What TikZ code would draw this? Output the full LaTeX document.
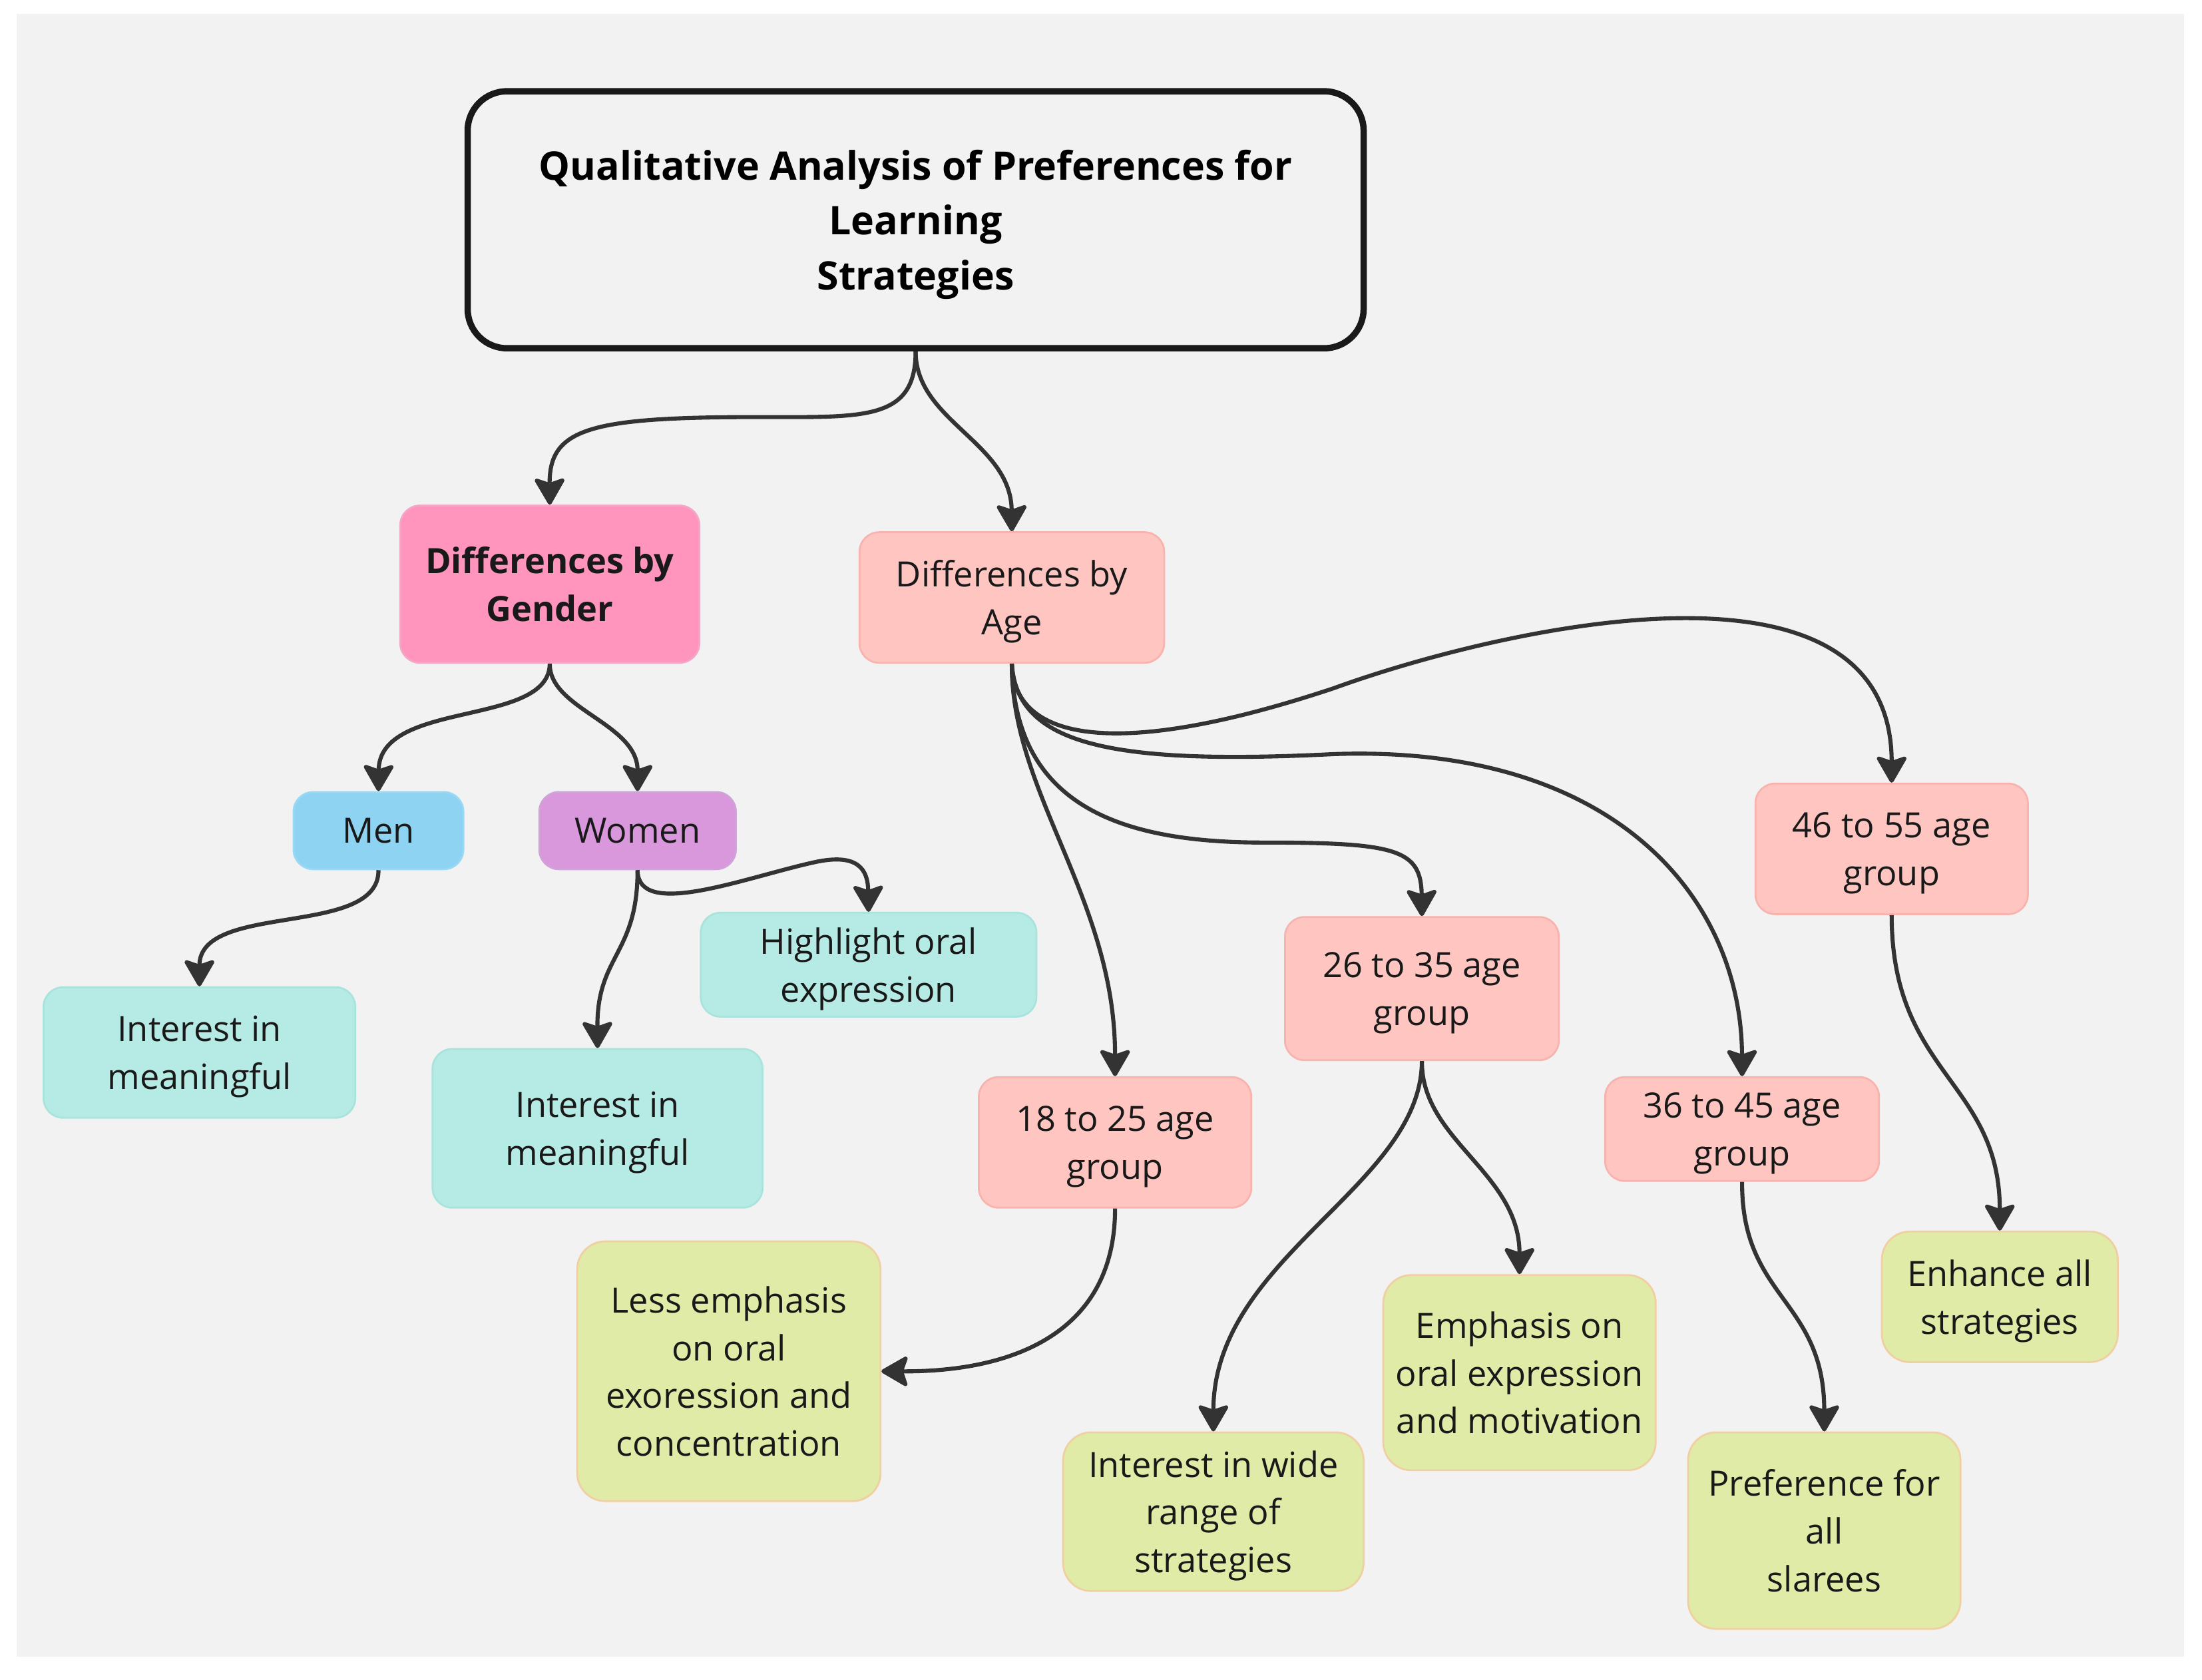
\documentclass[tikz,border=0pt]{standalone}
\usepackage{fontspec}
\setmainfont{Open Sans}
\usetikzlibrary{arrows.meta}
\definecolor{bg}{HTML}{F2F2F2}
\definecolor{pinkF}{HTML}{FF94BC}\definecolor{pinkD}{HTML}{F5A6C6}
\definecolor{salF}{HTML}{FFC6C1}\definecolor{salD}{HTML}{F8B3AE}
\definecolor{blueF}{HTML}{8FD3F3}\definecolor{blueD}{HTML}{9AD9F3}
\definecolor{purF}{HTML}{DA98DC}\definecolor{purD}{HTML}{CFA2D8}
\definecolor{tealF}{HTML}{B6EAE4}\definecolor{tealD}{HTML}{A8E4DC}
\definecolor{ylwF}{HTML}{DFEBA6}\definecolor{ylwD}{HTML}{F0D0A2}
\definecolor{arr}{HTML}{333333}
\begin{document}
\begin{tikzpicture}[x=1pt,y=-1pt,
  box/.style={rounded corners=14pt, line width=1.3pt, inner sep=0pt, align=center,
    text depth=0pt, font=\fontsize{24.8}{34}\selectfont, text=black!90},
  pinkbox/.style={box, fill=pinkF, draw=pinkD, font=\fontsize{24.8}{34}\selectfont\bfseries},
  salbox/.style={box, fill=salF, draw=salD},
  bluebox/.style={box, fill=blueF, draw=blueD},
  purbox/.style={box, fill=purF, draw=purD},
  tealbox/.style={box, fill=tealF, draw=tealD},
  ylwbox/.style={box, rounded corners=20pt, fill=ylwF, draw=ylwD},
  titlebox/.style={rounded corners=28pt, line width=4.5pt, draw=black!90, fill=bg,
    inner sep=0pt, align=center, text depth=0pt, font=\fontsize{28}{39}\selectfont\bfseries},
  conn/.style={draw=arr, line width=2.9pt,
    -{Stealth[length=21pt,width=24pt,inset=4pt,round]}}
]
\useasboundingbox (0,0) rectangle (1568,1196);
\fill[white] (0,0) rectangle (1568,1196);
\fill[bg] (12,10) rectangle (1555,1180);

% nodes
\node[titlebox, minimum width=638pt, minimum height=183pt] (title) at (652,156.5)
  {Qualitative Analysis of Preferences for\\Learning\\Strategies};
\node[pinkbox, minimum width=213pt, minimum height=112pt] (gender) at (391.5,416) {Differences by\\Gender};
\node[salbox, minimum width=217pt, minimum height=93pt] (age) at (720.5,425.5) {Differences by\\Age};
\node[bluebox, minimum width=121pt, minimum height=55pt] (men) at (269.5,591.5) {Men};
\node[purbox, minimum width=140pt, minimum height=55pt] (women) at (454,591.5) {Women};
\node[tealbox, minimum width=239pt, minimum height=74pt] (highlight) at (618.5,687) {Highlight oral\\expression};
\node[tealbox, minimum width=222pt, minimum height=93pt] (intA) at (142,749.5) {Interest in\\meaningful};
\node[tealbox, minimum width=235pt, minimum height=113pt] (intB) at (425.5,803.5) {Interest in\\meaningful};
\node[salbox, minimum width=194pt, minimum height=93pt] (a18) at (794,813.5) {18 to 25 age\\group};
\node[salbox, minimum width=195pt, minimum height=102pt] (a26) at (1012.5,704) {26 to 35 age\\group};
\node[salbox, minimum width=195pt, minimum height=74pt] (a36) at (1240.5,804) {36 to 45 age\\group};
\node[salbox, minimum width=194pt, minimum height=93pt] (a46) at (1347,604.5) {46 to 55 age\\group};
\node[ylwbox, minimum width=216pt, minimum height=185pt] (less) at (519,976.5)
  {Less emphasis\\on oral\\exoression and\\concentration};
\node[ylwbox, minimum width=214pt, minimum height=113pt] (wide) at (864,1076.5)
  {Interest in wide\\range of\\strategies};
\node[ylwbox, minimum width=194pt, minimum height=139pt] (emph) at (1082,977.5)
  {Emphasis on\\oral expression\\and motivation};
\node[ylwbox, minimum width=194pt, minimum height=140pt] (pref) at (1299,1090)
  {Preference for\\all\\slarees};
\node[ylwbox, minimum width=168pt, minimum height=93pt] (enh) at (1424,923.5)
  {Enhance all\\strategies};

% connectors
\path[conn] (title.south) .. controls (652,300) and (615,297) .. (540,297)
  .. controls (420,297) and (391,305) .. (gender.north);
\path[conn] (title.south) .. controls (652,300) and (720,315) .. (age.north);
\path[conn] (gender.south) .. controls (391,518) and (270,498) .. (men.north);
\path[conn] (gender.south) .. controls (391,505) and (454,515) .. (women.north);
\path[conn] (men.south) .. controls (270,668) and (142,642) .. (intA.north);
\path[conn] (women.south) .. controls (454,655) and (530,625) .. (580,614)
  .. controls (612,607) and (618,620) .. (highlight.north);
\path[conn] (women.south) .. controls (454,680) and (425,680) .. (intB.north);
\path[conn] (age.south) .. controls (720,565) and (794,640) .. (a18.north);
\path[conn] (age.south) .. controls (722,575) and (800,600) .. (900,600)
  .. controls (995,600) and (1012,605) .. (a26.north);
\path[conn] (age.south) .. controls (724,530) and (790,545) .. (950,537)
  .. controls (1150,530) and (1240,640) .. (a36.north);
\path[conn] (age.south) .. controls (722,530) and (800,540) .. (950,490)
  .. controls (1060,450) and (1347,380) .. (a46.north);
\path[conn] (a18.south) .. controls (794,950) and (720,977) .. (less.east);
\path[conn] (a26.south) .. controls (1012,845) and (864,895) .. (wide.north);
\path[conn] (a26.south) .. controls (1012,812) and (1082,835) .. (emph.north);
\path[conn] (a36.south) .. controls (1240,925) and (1299,925) .. (pref.north);
\path[conn] (a46.south) .. controls (1347,765) and (1424,770) .. (enh.north);
\end{tikzpicture}
\end{document}
